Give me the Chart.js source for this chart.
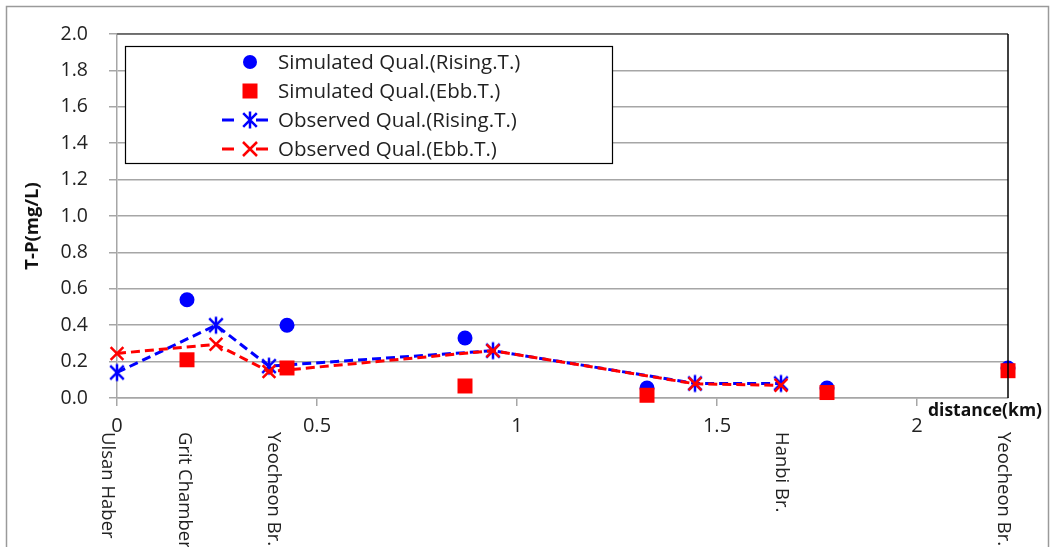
<!DOCTYPE html>
<html>
<head>
<meta charset="utf-8">
<script src="https://cdn.jsdelivr.net/npm/chart.js@4.4.1/dist/chart.umd.min.js"></script>
<style>
  body { margin: 0; background: #fff; }
  canvas { display: block; }
</style>
</head>
<body>
<canvas id="tpChart" width="1051" height="547"></canvas>
<script>
// values (km, mg/L)
const simKm = [0.175, 0.425, 0.87, 1.325, 1.775, 2.2275];
const simRisingTP = [0.54, 0.40, 0.33, 0.055, 0.055, 0.165];
const simEbbTP = [0.21, 0.165, 0.066, 0.015, 0.03, 0.15];

const obsKm = [0, 0.2475, 0.38, 0.94, 1.445, 1.66];
const obsRisingTP = [0.14, 0.40, 0.175, 0.26, 0.08, 0.08];
const obsEbbTP = [0.245, 0.295, 0.145, 0.26, 0.078, 0.07];

const xTicks = [0, 0.5, 1, 1.5, 2];

const stationNames = ["Ulsan Haber", "Grit Chamber", "Yeocheon Br.", "Hanbi Br.", "Yeocheon Br."];
const stationKm = [-0.025, 0.168, 0.39, 1.66, 2.215];

const seriesLabels = [
    "Simulated Qual.(Rising.T.)",
    "Simulated Qual.(Ebb.T.)",
    "Observed Qual.(Rising.T.)",
    "Observed Qual.(Ebb.T.)"
];

const FONT = "'Open Sans', Lato, sans-serif";
const BLUE = "#0000ff";
const RED = "#ff0000";

function pts(xs, ys) {
    return xs.map((x, i) => ({ x: x, y: ys[i] }));
}

// excel-like asterisk marker (vertical bar + X)
function asterisk(color, size) {
    const c = document.createElement("canvas");
    c.width = size; c.height = size;
    const g = c.getContext("2d");
    const m = size / 2, r = size / 2 - 1.5;
    g.strokeStyle = color;
    g.lineWidth = 2.5;
    g.beginPath();
    g.moveTo(m, m - r); g.lineTo(m, m + r);
    const d = r * 0.8;
    g.moveTo(m - d, m - d); g.lineTo(m + d, m + d);
    g.moveTo(m + d, m - d); g.lineTo(m - d, m + d);
    g.stroke();
    return c;
}
const blueStar = asterisk(BLUE, 20);

const decorPlugin = {
    id: "decor",
    beforeDraw(chart) {
        const ctx = chart.ctx;
        ctx.save();
        ctx.fillStyle = "#fff";
        ctx.fillRect(0, 0, chart.width, chart.height);
        ctx.strokeStyle = "#9a9a9a";
        ctx.lineWidth = 1.5;
        ctx.strokeRect(6.5, 6.5, 1042, 600);
        ctx.restore();
    },
    afterDatasetsDraw(chart) {
        const ctx = chart.ctx;
        const a = chart.chartArea;
        const xs = chart.scales.x;
        ctx.save();
        // plot border top + right
        ctx.strokeStyle = "#595959";
        ctx.lineWidth = 1.5;
        ctx.beginPath();
        ctx.moveTo(a.left, a.top);
        ctx.lineTo(a.right, a.top);
        ctx.stroke();
        ctx.strokeStyle = "#000";
        ctx.beginPath();
        ctx.moveTo(a.right, a.top);
        ctx.lineTo(a.right, a.bottom);
        ctx.stroke();

        // axis titles
        ctx.fillStyle = "#111";
        ctx.font = "bold 17.5px " + FONT;
        ctx.textAlign = "right";
        ctx.textBaseline = "middle";
        ctx.fillText("distance(km)", 1042, 411);
        ctx.save();
        ctx.translate(33, 226);
        ctx.rotate(-Math.PI / 2);
        ctx.textAlign = "center";
        ctx.font = "bold 18.5px " + FONT;
        ctx.fillText("T-P(mg/L)", 0, 0);
        ctx.restore();

        // station names under the axis
        ctx.fillStyle = "#222";
        ctx.font = "18.5px " + FONT;
        ctx.textAlign = "left";
        ctx.textBaseline = "middle";
        stationNames.forEach((name, i) => {
            ctx.save();
            ctx.translate(xs.getPixelForValue(stationKm[i]), 432);
            ctx.rotate(Math.PI / 2);
            ctx.fillText(name, 0, 0);
            ctx.restore();
        });

        // legend box
        const lx = 125, ly = 46, lw = 487, lh = 117;
        ctx.fillStyle = "#fff";
        ctx.fillRect(lx, ly, lw, lh);
        ctx.strokeStyle = "#000";
        ctx.lineWidth = 1.2;
        ctx.strokeRect(lx + 0.5, ly + 0.5, lw, lh);

        const mx = 250, rows = [62, 91, 120, 149];
        ctx.fillStyle = BLUE;
        ctx.beginPath();
        ctx.arc(mx, rows[0], 7, 0, Math.PI * 2);
        ctx.fill();
        ctx.fillStyle = RED;
        ctx.fillRect(mx - 7.5, rows[1] - 7.5, 15, 15);

        [[BLUE, rows[2]], [RED, rows[3]]].forEach(([col, y], k) => {
            ctx.strokeStyle = col;
            ctx.lineWidth = 3;
            ctx.beginPath();
            ctx.moveTo(222, y); ctx.lineTo(234, y);
            ctx.moveTo(256, y); ctx.lineTo(268, y);
            ctx.stroke();
            if (k === 0) {
                ctx.drawImage(blueStar, mx - 10, y - 10);
            } else {
                ctx.lineWidth = 2.5;
                ctx.beginPath();
                ctx.moveTo(mx - 7, y - 7); ctx.lineTo(mx + 7, y + 7);
                ctx.moveTo(mx + 7, y - 7); ctx.lineTo(mx - 7, y + 7);
                ctx.stroke();
            }
        });

        ctx.fillStyle = "#222";
        ctx.font = "20.5px " + FONT;
        ctx.textAlign = "left";
        ctx.textBaseline = "middle";
        seriesLabels.forEach((t, i) => ctx.fillText(t, 278, rows[i] + 1));
        ctx.restore();
    }
};

new Chart(document.getElementById("tpChart"), {
    type: "scatter",
    data: {
        datasets: [
            {
                label: seriesLabels[0],
                data: pts(simKm, simRisingTP),
                pointStyle: "circle",
                pointRadius: 7.5,
                backgroundColor: BLUE,
                borderWidth: 0,
                showLine: false,
                clip: false,
                order: 1
            },
            {
                label: seriesLabels[1],
                data: pts(simKm, simEbbTP),
                pointStyle: "rect",
                pointRadius: 10.6,
                backgroundColor: RED,
                borderWidth: 0,
                showLine: false,
                clip: false,
                order: 0
            },
            {
                label: seriesLabels[2],
                data: pts(obsKm, obsRisingTP),
                showLine: true,
                borderColor: BLUE,
                borderWidth: 3,
                borderDash: [9, 5],
                pointStyle: blueStar,
                pointBorderWidth: 0,
                clip: false,
                order: 3
            },
            {
                label: seriesLabels[3],
                data: pts(obsKm, obsEbbTP),
                showLine: true,
                borderColor: RED,
                borderWidth: 3,
                borderDash: [9, 5],
                pointStyle: "crossRot",
                pointRadius: 9,
                pointBorderColor: RED,
                pointBorderWidth: 2.5,
                clip: false,
                order: 2
            }
        ]
    },
    options: {
        responsive: false,
        animation: false,
        layout: { padding: { top: 34, right: 43, left: 0, bottom: 0 } },
        plugins: {
            legend: { display: false },
            tooltip: { enabled: false }
        },
        scales: {
            x: {
                type: "linear",
                min: 0,
                max: 2.2275,
                afterFit: (s) => { s.height = 149; },
                afterBuildTicks: (s) => {
                    s.ticks = xTicks.map(v => ({ value: v }));
                },
                ticks: {
                    autoSkip: false,
                    maxRotation: 0,
                    padding: 8,
                    color: "#222",
                    font: { family: FONT, size: 20 },
                    callback: (v) => String(v)
                },
                grid: { drawOnChartArea: false, drawTicks: true, tickLength: 8, color: "#a6a6a6", lineWidth: 1.5 },
                border: { color: "#a6a6a6", width: 1.5 }
            },
            y: {
                min: 0,
                max: 2,
                afterFit: (s) => { s.width = 117; },
                ticks: {
                    stepSize: 0.2,
                    padding: 21,
                    color: "#222",
                    font: { family: FONT, size: 19.5 },
                    callback: (v) => v.toFixed(1)
                },
                grid: { color: "#a6a6a6", lineWidth: 1.5, tickLength: 8 },
                border: { color: "#a6a6a6", width: 1.5 }
            }
        }
    },
    plugins: [decorPlugin]
});
</script>
</body>
</html>
